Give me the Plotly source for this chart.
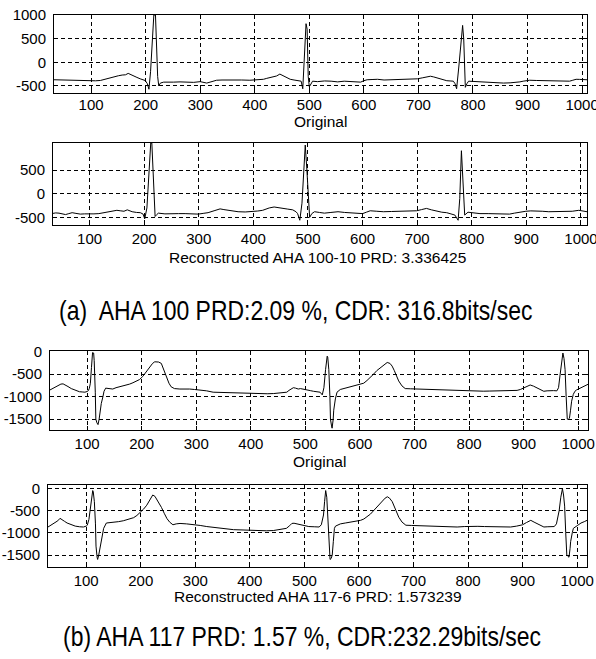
import plotly.graph_objects as go

# ---------------- data ----------------
orig100_x = [32,44,56,68,80,92,99,108,117,125,133,141,150,157,163,168,172,178,184,190,195,199,203,206,209,212,215,218,220,222,224,227,233,
             242,251,263,276,288,300,306,312,318,324,330,340,350,361,376,391,403,410,416,422,431,440,446,450,455,460,465,472,480,485,488,491,494,496,498,500,503,506,
             515,528,540,552,564,576,586,594,600,606,615,625,637,649,661,673,686,698,707,716,722,728,734,740,746,752,758,764,767,770,774,778,781,783,786,789,792,
             800,807,819,831,843,856,868,880,886,892,898,904,916,928,940,953,965,977,983,989,995,1001,1009]
orig100_y = [-370,-375,-380,-378,-385,-388,-390,-392,-385,-360,-330,-300,-285,-270,-265,-235,-260,-290,-320,-350,-370,-385,-450,-570,-200,500,1000,1000,300,-300,-500,-440,-420,
             -425,-420,-415,-420,-425,-410,-425,-440,-420,-395,-380,-375,-372,-370,-375,-380,-378,-370,-360,-340,-310,-290,-250,-270,-300,-330,-360,-375,-385,-400,-560,200,816,700,-300,-520,-450,-400,
             -410,-395,-400,-415,-400,-410,-415,-420,-390,-370,-365,-360,-375,-370,-365,-370,-360,-350,-330,-300,-295,-310,-330,-350,-375,-390,-395,-400,-450,-560,-100,500,780,500,-530,-450,-400,
             -405,-410,-415,-420,-430,-440,-435,-430,-415,-400,-385,-380,-385,-390,-392,-395,-398,-400,-380,-360,-362,-368,-370]

rec100_x = [32,38,44,50,56,62,68,75,83,91,99,108,117,126,135,142,150,156,163,169,174,178,186,193,198,201,205,209,212,214,216,218,220,223,226,
            238,251,263,275,287,299,308,317,328,334,339,346,354,363,372,385,399,408,417,423,429,438,446,454,463,472,478,481,485,489,492,495,498,501,503,507,512,
            521,530,542,555,567,579,590,600,607,614,626,638,653,668,684,699,708,717,726,735,745,754,762,769,775,778,781,784,787,793,
            804,815,830,845,857,869,878,887,899,908,917,929,941,953,965,975,984,996,1005,1011]
rec100_y = [-417,-405,-410,-430,-440,-420,-400,-415,-430,-425,-430,-425,-420,-405,-390,-370,-350,-360,-370,-340,-360,-380,-395,-400,-430,-530,-300,400,1070,1070,400,-200,-480,-440,-410,
            -425,-430,-420,-420,-425,-430,-415,-400,-360,-340,-320,-335,-350,-370,-380,-385,-380,-365,-350,-320,-300,-280,-290,-310,-325,-340,-380,-420,-560,-200,500,1027,500,-300,-500,-420,-380,
            -395,-410,-395,-380,-395,-400,-410,-420,-390,-360,-370,-380,-375,-370,-365,-360,-335,-310,-340,-370,-390,-400,-420,-450,-560,-100,907,300,-450,-390,
            -410,-420,-420,-420,-425,-430,-410,-390,-370,-362,-360,-370,-380,-380,-380,-375,-370,-350,-370,-380]

orig117_x = [32,37,43,48,52,56,59,65,71,78,86,91,96,100,102,104,106,108,110,112,113,115,116,118,120,122,123,126,129,131,134,140,147,153,160,166,172,178,184,190,196,202,208,214,220,224,227,231,236,240,245,250,254,260,
             270,279,288,297,307,319,331,343,356,368,380,393,405,417,430,442,454,462,466,470,474,478,482,487,491,497,503,509,515,521,527,531,534,537,539,540,541,543,545,546,548,549,551,552,555,558,564,570,577,583,589,595,601,607,613,619,625,631,638,644,650,655,659,663,667,671,677,683,
             693,704,716,729,741,753,766,778,790,802,814,826,838,851,863,875,888,894,900,906,912,918,924,930,937,943,949,955,961,964,967,970,972,974,976,978,980,982,984,986,988,991,994,997,1003,1010,1016,1018]
orig117_y = [-850,-820,-780,-740,-720,-715,-730,-775,-820,-860,-890,-895,-900,-885,-870,-820,-700,-350,-20,-30,-200,-900,-1500,-1580,-1620,-1500,-1400,-1150,-1000,-880,-810,-820,-830,-800,-780,-770,-745,-720,-690,-660,-620,-550,-450,-340,-260,-225,-220,-230,-260,-380,-560,-700,-780,-820,
             -830,-825,-830,-840,-850,-870,-900,-905,-915,-920,-930,-935,-940,-935,-935,-930,-920,-905,-900,-860,-820,-800,-810,-830,-820,-830,-850,-865,-880,-890,-900,-960,-800,-400,-150,-100,-120,-400,-1000,-1500,-1650,-1700,-1500,-1300,-1050,-900,-840,-820,-800,-780,-760,-745,-730,-700,-640,-580,-500,-420,-350,-280,-240,-260,-320,-420,-540,-650,-760,-820,
             -825,-830,-835,-840,-845,-850,-860,-870,-872,-875,-880,-878,-875,-870,-866,-862,-860,-840,-810,-775,-740,-765,-800,-840,-880,-870,-860,-865,-870,-800,-500,-150,-30,-150,-400,-1000,-1500,-1500,-1480,-1300,-1100,-950,-880,-850,-810,-780,-740,-725]

rec117_x = [30,37,43,48,52,56,60,65,72,80,88,95,100,102,105,107,110,112,113,115,117,118,120,121,123,126,129,132,137,144,150,159,168,177,187,193,199,205,211,217,222,226,232,238,243,248,253,259,
            265,272,284,297,309,321,333,345,357,370,382,394,406,418,430,443,455,467,473,477,481,486,493,500,508,518,527,531,535,537,539,541,543,545,547,549,551,553,555,557,562,566,575,585,594,603,609,615,621,627,632,637,643,648,652,656,661,665,669,673,679,686,
            696,707,720,732,744,756,768,780,793,805,818,830,842,854,866,878,889,895,900,907,915,921,927,933,939,945,952,958,962,965,967,970,973,975,977,979,981,983,985,987,988,991,993,1000,1007,1013,1018]
rec117_y = [-870,-820,-780,-730,-675,-700,-740,-780,-815,-850,-865,-870,-850,-830,-700,-500,-200,-50,-80,-300,-800,-1300,-1550,-1600,-1500,-1300,-1050,-900,-780,-775,-770,-750,-730,-700,-660,-610,-550,-470,-380,-260,-150,-180,-300,-430,-560,-680,-760,-820,
            -800,-790,-800,-810,-835,-860,-880,-900,-915,-930,-935,-940,-950,-960,-955,-950,-930,-900,-840,-790,-785,-800,-820,-840,-860,-865,-870,-820,-600,-300,-50,-200,-600,-1200,-1600,-1580,-1500,-1200,-900,-850,-820,-800,-780,-760,-740,-720,-690,-640,-580,-500,-430,-360,-280,-220,-190,-220,-300,-420,-540,-650,-760,-830,
            -835,-840,-845,-850,-855,-860,-865,-870,-860,-850,-855,-860,-860,-865,-870,-870,-850,-830,-820,-770,-720,-760,-800,-840,-870,-865,-860,-860,-800,-600,-500,-200,-10,-150,-400,-1000,-1500,-1530,-1550,-1350,-1200,-1000,-900,-840,-780,-750,-720]

x_ticks = [100, 200, 300, 400, 500, 600, 700, 800, 900, 1000]
y_ticks_orig100 = [-500, 0, 500, 1000]
y_ticks_rec100 = [-500, 0, 500]
y_ticks_117 = [-1500, -1000, -500, 0]

axis_titles = ["Original", "Reconstructed AHA 100-10 PRD: 3.336425",
               "Original", "Reconstructed AHA 117-6 PRD: 1.573239"]
captions = ["(a)  AHA 100 PRD:2.09 %, CDR: 316.8bits/sec",
            "(b) AHA 117 PRD: 1.57 %, CDR:232.29bits/sec"]

# ---------------- layout geometry (pixels) ----------------
W, H = 596, 659
panels = [  # left, right, top, bottom (px), xrange, yrange, yticks, x-label standoff
    dict(l=54, r=587, t=15, b=93, xr=[32, 1009], yr=[-650, 1000], yt=y_ticks_orig100, xs=-2),
    dict(l=53, r=587, t=143, b=225, xr=[33, 1011], yr=[-660, 1070], yt=y_ticks_rec100, xs=0),
    dict(l=50, r=588, t=351, b=430, xr=[32, 1018], yr=[-1740, 15], yt=y_ticks_117, xs=0),
    dict(l=48, r=587, t=485, b=567, xr=[30, 1018], yr=[-1770, 75], yt=y_ticks_117, xs=0),
]
series = [(orig100_x, orig100_y), (rec100_x, rec100_y), (orig117_x, orig117_y), (rec117_x, rec117_y)]
title_y = [121, 257, 461, 596]
title_x = [320, 318, 319, 318]

TICKFONT = dict(family="Liberation Sans, Arial, sans-serif", size=15, color="black")

fig = go.Figure()
layout = dict(width=W, height=H, margin=dict(l=0, r=0, t=0, b=0, autoexpand=False),
              paper_bgcolor="white", plot_bgcolor="white", showlegend=False)
annotations = []
for i, (p, (sx, sy)) in enumerate(zip(panels, series)):
    n = "" if i == 0 else str(i + 1)
    fig.add_trace(go.Scatter(x=sx, y=sy, mode="lines", xaxis="x" + n, yaxis="y" + n,
                             line=dict(color="black", width=1), hoverinfo="skip"))
    common = dict(showline=True, mirror="ticks", linecolor="black", linewidth=1,
                  ticks="inside", ticklen=4, tickcolor="black", tickwidth=1,
                  showgrid=True, gridcolor="black", gridwidth=1, griddash="4px,3px",
                  zeroline=False, tickfont=TICKFONT, fixedrange=True,
                  ticklabeloverflow="allow")
    layout["xaxis" + n] = dict(common, domain=[p["l"] / W, p["r"] / W], range=p["xr"],
                               anchor="y" + n, tickvals=x_ticks,
                               ticktext=[str(v) for v in x_ticks],
                               ticklabelstandoff=p["xs"])
    layout["yaxis" + n] = dict(common, domain=[1 - p["b"] / H, 1 - p["t"] / H], range=p["yr"],
                               anchor="x" + n, tickvals=p["yt"],
                               ticktext=[str(v) for v in p["yt"]], ticklabelstandoff=4)
    annotations.append(dict(text=axis_titles[i], x=title_x[i] / W, y=1 - title_y[i] / H,
                            xref="paper", yref="paper", xanchor="center", yanchor="middle",
                            showarrow=False,
                            font=dict(family="Liberation Sans, Arial, sans-serif", size=15.5, color="black")))

cap_pos = [(57, 311), (61, 636)]
for txt, (cx, cy) in zip(captions, cap_pos):
    annotations.append(dict(text=txt, x=cx / W, y=1 - cy / H, xref="paper", yref="paper",
                            xanchor="left", yanchor="middle", showarrow=False,
                            font=dict(family="Liberation Sans, Arial, sans-serif",
                                      size=28, color="black")))
layout["annotations"] = annotations
fig.update_layout(**layout)

# page without the default body margin; captions use a condensed face in the reference
post = """
document.documentElement.style.margin = '0';
document.body.style.margin = '0';
document.body.style.padding = '0';
document.querySelectorAll('text.annotation-text').forEach(function(t){
  if (t.textContent.indexOf('bits/sec') >= 0) {
    t.style.transformBox = 'fill-box';
    t.style.transformOrigin = 'left center';
    t.style.transform = 'scaleX(0.82)';
  }
});
"""
fig.write_html("out.html", post_script=post, config={"displayModeBar": False})
